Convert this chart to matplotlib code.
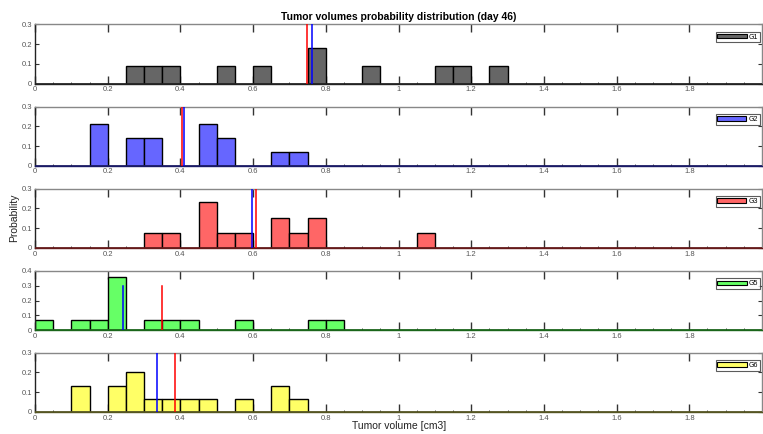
import numpy as np
import matplotlib
matplotlib.use("Agg")
import matplotlib.pyplot as plt
from matplotlib.patches import Patch
from matplotlib.ticker import MultipleLocator, FixedLocator

plt.rcParams['font.family'] = ['Liberation Sans', 'DejaVu Sans']

BIN_WIDTH = 0.05
BIN_EDGES = np.round(np.arange(0, 2.0 + 1e-9, BIN_WIDTH), 2)

groups = ["G1", "G2", "G3", "G5", "G6"]

# Left edges of the occupied bins and their probabilities, per group
g1_bins = [0.25, 0.30, 0.35, 0.50, 0.60, 0.75, 0.90, 1.10, 1.15, 1.25]
g1_prob = [1/11, 1/11, 1/11, 1/11, 1/11, 2/11, 1/11, 1/11, 1/11, 1/11]

g2_bins = [0.15, 0.25, 0.30, 0.45, 0.50, 0.65, 0.70]
g2_prob = [3/14, 2/14, 2/14, 3/14, 2/14, 1/14, 1/14]

g3_bins = [0.30, 0.35, 0.45, 0.50, 0.55, 0.65, 0.70, 0.75, 1.05]
g3_prob = [1/13, 1/13, 3/13, 1/13, 1/13, 2/13, 1/13, 2/13, 1/13]

g5_bins = [0.00, 0.10, 0.15, 0.20, 0.30, 0.35, 0.40, 0.55, 0.75, 0.80]
g5_prob = [1/14, 1/14, 1/14, 5/14, 1/14, 1/14, 1/14, 1/14, 1/14, 1/14]

g6_bins = [0.10, 0.20, 0.25, 0.30, 0.35, 0.40, 0.45, 0.55, 0.65, 0.70]
g6_prob = [2/15, 2/15, 3/15, 1/15, 1/15, 1/15, 1/15, 1/15, 2/15, 1/15]

# Mean (red) and median (blue) volumes per group
means = [0.747, 0.405, 0.609, 0.350, 0.385]
medians = [0.763, 0.409, 0.596, 0.241, 0.336]

y_tops = [0.3, 0.3, 0.3, 0.4, 0.3]
marker_height = 0.3

face_colors = ["#666666", "#6666ff", "#ff6666", "#66ff66", "#ffff66"]
base_colors = ["#222222", "#1a1a66", "#661a1a", "#1a661a", "#555522"]

bins_all = [g1_bins, g2_bins, g3_bins, g5_bins, g6_bins]
probs_all = [g1_prob, g2_prob, g3_prob, g5_prob, g6_prob]

W, H = 763, 434
fig = plt.figure(figsize=(W / 100, H / 100), dpi=100)

ax_left = 35 / W
ax_width = 1 - ax_left - 1 / W
tops_px = [24.3, 106.7, 188.7, 270.7, 352.7]
bottoms_px = [83.5, 165.7, 248.0, 330.3, 412.0]

xticks = [0, 0.2, 0.4, 0.6, 0.8, 1.0, 1.2, 1.4, 1.6, 1.8]
xtick_labels = ["0", "0.2", "0.4", "0.6", "0.8", "1", "1.2", "1.4", "1.6", "1.8"]

axes = []
for i, name in enumerate(groups):
    b = 1 - bottoms_px[i] / H
    h = (bottoms_px[i] - tops_px[i]) / H
    ax = fig.add_axes([ax_left, b, ax_width, h])
    axes.append(ax)

    heights = np.zeros(len(BIN_EDGES) - 1)
    for left, p in zip(bins_all[i], probs_all[i]):
        heights[int(round(left / BIN_WIDTH))] = p
    ax.bar(BIN_EDGES[:-1], heights, width=BIN_WIDTH, align="edge",
           color=face_colors[i], edgecolor="black", linewidth=1.0, zorder=2)
    ax.axhline(0, color=base_colors[i], linewidth=1.2, zorder=3)

    ax.plot([means[i], means[i]], [0, marker_height], color="red", linewidth=1.1, zorder=4)
    ax.plot([medians[i], medians[i]], [0, marker_height], color="blue", linewidth=1.1, zorder=4)

    ax.set_xlim(0, 2.0)
    ax.set_ylim(0, y_tops[i])
    ax.xaxis.set_major_locator(FixedLocator(xticks))
    ax.set_xticklabels(xtick_labels)
    ax.xaxis.set_minor_locator(MultipleLocator(0.05))
    ax.yaxis.set_major_locator(MultipleLocator(0.1))
    ax.set_yticklabels(["0" if abs(v) < 1e-9 else f"{v:.1f}" for v in ax.get_yticks()])

    ax.tick_params(axis="x", which="major", direction="in", top=True, bottom=True,
                   length=6, width=1.0, labelsize=5.5, pad=2, colors="#333333",
                   labelcolor="#555555")
    ax.tick_params(axis="x", which="minor", direction="in", top=False, bottom=True,
                   length=1.2, width=0.6, colors="#333333")
    ax.tick_params(axis="y", which="major", direction="in", left=True, right=True,
                   length=3, width=0.8, labelsize=5.5, pad=2, colors="#333333",
                   labelcolor="#555555")

    for side in ("top", "right"):
        ax.spines[side].set_color("#888888")
        ax.spines[side].set_linewidth(1.0)
    ax.spines["left"].set_color("#222222")
    ax.spines["left"].set_linewidth(1.0)
    ax.spines["bottom"].set_color(base_colors[i])
    ax.spines["bottom"].set_linewidth(1.0)

    handle = Patch(facecolor=face_colors[i], edgecolor="black", linewidth=0.8)
    leg = ax.legend([handle], [name], loc="upper right", fontsize=5,
                    frameon=True, fancybox=False, handlelength=4.2, handleheight=0.6,
                    handletextpad=0.3, borderpad=0.25, borderaxespad=0.0,
                    bbox_to_anchor=(0.997, 0.87))
    leg.get_frame().set_edgecolor("#333333")
    leg.get_frame().set_linewidth(0.8)

axes[0].set_title("Tumor volumes probability distribution (day 46)", fontsize=7.5,
                  fontweight="bold", pad=3)
fig.text(14 / W, 1 - 218 / H, "Probability", rotation=90, ha="center", va="center",
         fontsize=7.5, color="#222222")
fig.text(0.5 + ax_left / 2, 1 - 426 / H, "Tumor volume [cm3]", ha="center", va="center",
         fontsize=7.5, color="#222222")

fig.savefig("out.png", dpi=100)
